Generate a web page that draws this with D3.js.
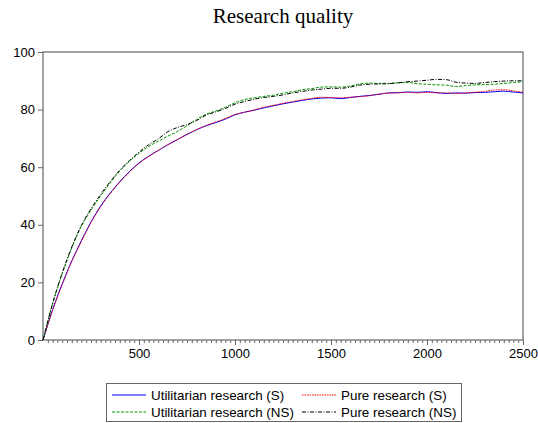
<!DOCTYPE html>
<html>
<head>
<meta charset="utf-8">
<script src="https://cdn.jsdelivr.net/npm/d3@7"></script>
<style>
  html, body { margin: 0; padding: 0; background: #fff; }
  svg { display: block; }
</style>
</head>
<body>
<svg id="chart" width="538" height="423"></svg>
<script>
// Periods (every 50 steps) and research quality for the four runs
const periods = d3.range(0, 2501, 50);

const utilS = [0, 10.5, 19.5, 27.5, 34.5, 41, 46.5, 51, 55, 58.5, 61.5, 63.8, 65.8, 67.8, 69.6, 71.4, 73.0, 74.4, 75.5, 76.7, 78.2,
  79.1, 79.8, 80.6, 81.3, 82.0, 82.6, 83.2, 83.7, 84.0, 84.1, 83.8, 84.2, 84.6, 84.9, 85.3, 85.8, 85.9, 86.1, 86.0, 86.2,
  85.9, 85.6, 85.8, 85.7, 85.9, 86.0, 86.2, 86.4, 86.1, 85.8];

const pureS = [0, 10.3, 19.2, 27.2, 34.2, 40.7, 46.2, 50.8, 54.8, 58.3, 61.3, 63.7, 65.8, 67.8, 69.6, 71.4, 73.1, 74.5, 75.7, 76.9, 78.3,
  79.1, 79.9, 80.8, 81.5, 82.2, 82.8, 83.4, 83.9, 84.3, 84.2, 84.1, 84.3, 84.5, 84.8, 85.4, 85.7, 85.8, 86.0, 85.8, 86.0,
  85.8, 85.8, 85.6, 85.8, 86.0, 86.3, 86.8, 86.9, 86.5, 86.0];

const utilNS = [0, 12.5, 23, 32, 39.5, 45, 50, 54.5, 58.7, 62, 64.8, 67.2, 69, 70.8, 72.4, 74.4, 76.6, 78.4, 79.5, 80.8, 82.4,
  83.5, 84.1, 84.6, 85.0, 85.7, 86.2, 86.9, 87.3, 87.8, 87.9, 87.8, 88.2, 88.9, 89.2, 89.1, 89.1, 89.3, 89.4, 89.0, 88.8,
  88.6, 88.5, 88.0, 88.3, 88.6, 88.7, 88.8, 89.1, 89.4, 89.7];

const pureNS = [0, 12.7, 23.3, 32.3, 39.8, 45.6, 50.5, 55, 59, 62.3, 65.2, 67.8, 69.8, 72.3, 73.8, 74.8, 76.2, 78.1, 79.2, 80.4, 81.9,
  82.8, 83.6, 84.2, 84.6, 85.1, 85.8, 86.3, 86.8, 87.1, 87.4, 87.4, 87.8, 88.5, 88.8, 88.9, 89.0, 89.3, 89.7, 89.9, 90.2,
  90.5, 90.4, 89.5, 89.2, 89.1, 89.4, 89.7, 89.9, 90.0, 90.0];

const seriesNames = ["Utilitarian research (S)", "Pure research (S)", "Utilitarian research (NS)", "Pure research (NS)"];
const seriesColors = ["#0000ff", "#ff0000", "#009900", "#000000"];
const seriesDash = [null, "1.5,1", "3,1.5", "4,1.5,1,1.5"];
const seriesValues = [utilS, pureS, utilNS, pureNS];

const yTicks = [0, 20, 40, 60, 80, 100];
const xTicks = [500, 1000, 1500, 2000, 2500];
const xMinorTicks = d3.range(25, 2501, 25).filter(v => v % 500 !== 0);

const svg = d3.select("#chart");
const plot = { left: 43, right: 523, top: 52, bottom: 340 };

const x = d3.scaleLinear().domain([0, 2500]).range([plot.left, plot.right]);
const y = d3.scaleLinear().domain([0, 100]).range([plot.bottom, plot.top]);

const axisColor = "#666";
const font = "Arial, 'Liberation Sans', sans-serif";

// Title
svg.append("text")
  .attr("x", (plot.left + plot.right) / 2)
  .attr("y", 23)
  .attr("text-anchor", "middle")
  .attr("font-family", "'Times New Roman', 'Liberation Serif', serif")
  .attr("font-size", 21)
  .attr("fill", "#000")
  .text("Research quality");

// Y axis
const yAxis = svg.append("g")
  .attr("transform", `translate(${plot.left},0)`)
  .call(d3.axisLeft(y).tickValues(yTicks).tickSize(5).tickPadding(3).tickFormat(d3.format("d")));
yAxis.select(".domain").remove();
yAxis.selectAll("line").attr("stroke", axisColor);
yAxis.selectAll("text").attr("font-family", font).attr("font-size", 13).attr("fill", "#000");

// X axis: minor ticks
const xMinor = svg.append("g")
  .attr("transform", `translate(0,${plot.bottom})`)
  .call(d3.axisBottom(x).tickValues(xMinorTicks).tickSize(3).tickFormat(""));
xMinor.select(".domain").remove();
xMinor.selectAll("line").attr("stroke", axisColor);

// X axis: major ticks and labels
const xAxis = svg.append("g")
  .attr("transform", `translate(0,${plot.bottom})`)
  .call(d3.axisBottom(x).tickValues(xTicks).tickSize(5).tickPadding(4).tickFormat(d3.format("d")));
xAxis.select(".domain").remove();
xAxis.selectAll("line").attr("stroke", axisColor);
xAxis.selectAll("text").attr("font-family", font).attr("font-size", 13).attr("fill", "#000");

// Plot frame
svg.append("rect")
  .attr("x", plot.left)
  .attr("y", plot.top)
  .attr("width", plot.right - plot.left)
  .attr("height", plot.bottom - plot.top)
  .attr("fill", "none")
  .attr("stroke", axisColor)
  .attr("stroke-width", 1.2);

// Series lines
const line = d3.line()
  .x((d, i) => x(periods[i]))
  .y(d => y(d))
  .curve(d3.curveMonotoneX);

seriesValues.forEach((vals, k) => {
  svg.append("path")
    .datum(vals)
    .attr("d", line)
    .attr("fill", "none")
    .attr("stroke", seriesColors[k])
    .attr("stroke-width", 1)
    .attr("stroke-dasharray", seriesDash[k]);
});

// Legend
const legend = svg.append("g");
legend.append("rect")
  .attr("x", 106.5)
  .attr("y", 383.5)
  .attr("width", 355)
  .attr("height", 38)
  .attr("fill", "#fff")
  .attr("stroke", axisColor)
  .attr("stroke-width", 1);

const legendPos = [
  { lx: 112, ty: 395 },
  { lx: 302, ty: 395 },
  { lx: 112, ty: 412 },
  { lx: 302, ty: 412 }
];
seriesNames.forEach((name, k) => {
  const p = legendPos[k];
  legend.append("line")
    .attr("x1", p.lx).attr("x2", p.lx + 34)
    .attr("y1", p.ty).attr("y2", p.ty)
    .attr("stroke", seriesColors[k])
    .attr("stroke-width", 1)
    .attr("stroke-dasharray", seriesDash[k]);
  legend.append("text")
    .attr("x", p.lx + 39)
    .attr("y", p.ty)
    .attr("dy", "0.35em")
    .attr("font-family", font)
    .attr("font-size", 13.4)
    .attr("fill", "#000")
    .text(name);
});
</script>
</body>
</html>
